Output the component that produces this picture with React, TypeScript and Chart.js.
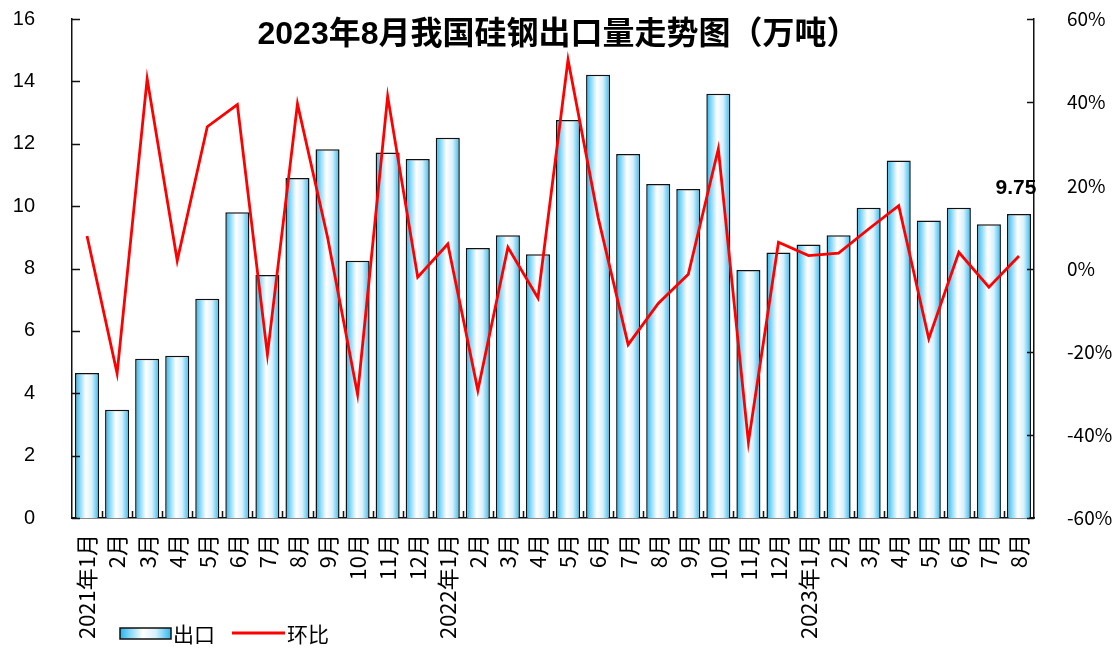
import React, { useEffect, useRef } from 'react';
import { Chart, registerables } from 'chart.js';

Chart.register(...registerables);

const titleText = '2023年8月我国硅钢出口量走势图（万吨）';

const categories = [
  '2021年1月', '2月', '3月', '4月', '5月', '6月', '7月', '8月', '9月', '10月', '11月', '12月',
  '2022年1月', '2月', '3月', '4月', '5月', '6月', '7月', '8月', '9月', '10月', '11月', '12月',
  '2023年1月', '2月', '3月', '4月', '5月', '6月', '7月', '8月',
];

// 出口 (万吨)
const exportValues = [
  4.65, 3.47, 5.11, 5.2, 7.03, 9.8, 7.79, 10.9, 11.82, 8.25, 11.72, 11.51,
  12.19, 8.66, 9.07, 8.46, 12.76, 14.21, 11.67, 10.71, 10.55, 13.6, 7.95, 8.51,
  8.77, 9.07, 9.95, 11.46, 9.54, 9.95, 9.42, 9.75,
];

// 环比 (%)
const momValues = [
  7.8, -25.2, 45.6, 1.9, 34.1, 39.4, -20.7, 39.6, 7.5, -30.3, 41.4, -2.1,
  5.9, -29.3, 5.1, -7.1, 50.2, 12.3, -18.3, -8.4, -1.4, 28.8, -41.8, 6.3,
  3.1, 3.7, 9.5, 15.1, -16.9, 3.9, -4.5, 3.0,
];

const seriesNames = ['出口', '环比'];
const leftTicks = { min: 0, max: 16, step: 2 };
const rightTicks = { min: -60, max: 60, step: 20 };

function makeGradient(c: CanvasRenderingContext2D, x0: number, x1: number) {
  const g = c.createLinearGradient(x0, 0, x1, 0);
  g.addColorStop(0, '#22B4EC');
  g.addColorStop(0.18, '#7FD5F6');
  g.addColorStop(0.45, '#FFFFFF');
  g.addColorStop(0.7, '#D8F1FC');
  g.addColorStop(1, '#2EB9EE');
  return g;
}

function barFill(ctx: any) {
  const chart = ctx.chart;
  const xs = chart.scales && chart.scales.x;
  if (ctx.type !== 'data' || !xs || !chart.chartArea) return '#8ED8F6';
  const cx = xs.getPixelForValue(ctx.dataIndex);
  const w = (xs.width / categories.length) * 0.8;
  return makeGradient(chart.ctx, cx - w / 2, cx + w / 2);
}

const overlayPlugin = {
  id: 'overlay',
  afterDraw(chart: any) {
    const c: CanvasRenderingContext2D = chart.ctx;
    const { left, right, bottom } = chart.chartArea;
    const ys = chart.scales.y;
    const ys1 = chart.scales.y1;
    c.save();
    // inward tick marks
    c.strokeStyle = '#111';
    c.lineWidth = 1.5;
    c.beginPath();
    ys.ticks.forEach((t: any) => {
      const y = Math.round(ys.getPixelForValue(t.value)) + 0.5;
      c.moveTo(left, y);
      c.lineTo(left + 8, y);
    });
    ys1.ticks.forEach((t: any) => {
      const y = Math.round(ys1.getPixelForValue(t.value)) + 0.5;
      c.moveTo(right - 7, y);
      c.lineTo(right, y);
    });
    const catW = (right - left) / categories.length;
    for (let i = 1; i < categories.length; i++) {
      const x = Math.round(left + i * catW) + 0.5;
      c.moveTo(x, bottom);
      c.lineTo(x, bottom - 7);
    }
    c.stroke();

    // title
    c.fillStyle = '#000';
    c.textAlign = 'center';
    c.textBaseline = 'middle';
    c.font = 'bold 32px "Liberation Sans", "Noto Sans CJK SC", sans-serif';
    c.fillText(titleText, 558, 35);

    // last value label
    const meta = chart.getDatasetMeta(0);
    const lastIdx = exportValues.length - 1;
    const el = meta.data[lastIdx];
    if (el) {
      c.font = 'bold 21px "Liberation Sans", sans-serif';
      c.fillText(String(exportValues[lastIdx]), el.x - 3, el.y - 26);
    }

    // legend
    const lx = 120;
    const ly = 628;
    c.fillStyle = makeGradient(c, lx, lx + 51);
    c.fillRect(lx, ly, 51, 11);
    c.strokeStyle = '#111';
    c.lineWidth = 1.5;
    c.strokeRect(lx, ly, 51, 11);
    c.fillStyle = '#000';
    c.textAlign = 'left';
    c.font = '21px "Noto Sans CJK SC", sans-serif';
    c.fillText(chart.data.datasets[0].label, 173, 634);
    c.strokeStyle = '#FF0000';
    c.lineWidth = 3;
    c.beginPath();
    c.moveTo(232, 633);
    c.lineTo(285, 633);
    c.stroke();
    c.fillText(chart.data.datasets[1].label, 287, 634);
    c.restore();
  },
};

function zeroPad(s: any) {
  s.paddingTop = 0;
  s.paddingBottom = 0;
  s.paddingLeft = 0;
  s.paddingRight = 0;
}

export default function App() {
  const ref = useRef<HTMLCanvasElement | null>(null);

  useEffect(() => {
    document.body.style.margin = '0';
    if (!ref.current) return;
    const chart = new Chart(ref.current, {
      type: 'bar',
      data: {
        labels: categories,
        datasets: [
          {
            type: 'bar',
            label: seriesNames[0],
            data: exportValues,
            yAxisID: 'y',
            backgroundColor: barFill,
            borderColor: '#111',
            borderWidth: 1.5,
            barPercentage: 0.8,
            categoryPercentage: 1.0,
            order: 1,
          },
          {
            type: 'line',
            label: seriesNames[1],
            data: momValues,
            yAxisID: 'y1',
            borderColor: '#FF0000',
            borderWidth: 2.8,
            pointRadius: 0,
            tension: 0,
            fill: false,
            order: 0,
          },
        ],
      } as any,
      options: {
        animation: false,
        responsive: false,
        layout: { padding: { top: 19, left: 0, right: 0, bottom: 0 } },
        plugins: {
          legend: { display: false },
          title: { display: false },
          tooltip: { enabled: false },
        },
        scales: {
          x: {
            grid: { display: false },
            border: { display: true, color: '#111', width: 1.5 },
            ticks: {
              autoSkip: false,
              maxRotation: 90,
              minRotation: 90,
              padding: 8,
              color: '#000',
              font: { family: '"Noto Sans CJK SC", sans-serif', size: 22 },
            },
            afterFit: (s: any) => {
              s.height = 139;
              zeroPad(s);
            },
          },
          y: {
            position: 'left',
            min: leftTicks.min,
            max: leftTicks.max,
            grid: { display: false },
            border: { display: true, color: '#111', width: 1.5 },
            ticks: {
              stepSize: leftTicks.step,
              padding: 29,
              color: '#000',
              font: { family: '"Liberation Sans", sans-serif', size: 20 },
            },
            afterFit: (s: any) => {
              s.width = 72;
              zeroPad(s);
            },
          },
          y1: {
            position: 'right',
            min: rightTicks.min,
            max: rightTicks.max,
            grid: { display: false },
            border: { display: true, color: '#111', width: 1.5 },
            ticks: {
              stepSize: rightTicks.step,
              padding: 25,
              color: '#000',
              font: { family: '"Noto Sans CJK SC", sans-serif', size: 19 },
              callback: (v: any) => v + '%',
            },
            afterFit: (s: any) => {
              s.width = 83;
              zeroPad(s);
            },
          },
        },
      } as any,
      plugins: [overlayPlugin],
    });
    return () => chart.destroy();
  }, []);

  return (
    <div style={{ width: 1117, height: 657, background: '#fff' }}>
      <canvas ref={ref} width={1117} height={657} />
    </div>
  );
}
